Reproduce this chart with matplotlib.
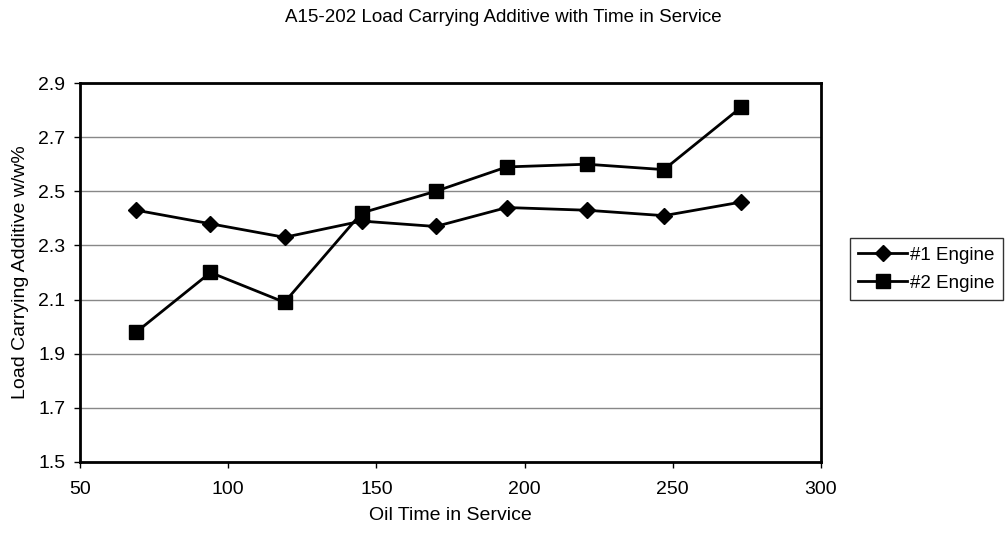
import matplotlib
matplotlib.use('Agg')
import matplotlib.pyplot as plt

plt.rcParams['font.family'] = ['Liberation Sans', 'DejaVu Sans']

# data
hours = [69, 94, 119, 145, 170, 194, 221, 247, 273]
engine1 = [2.43, 2.38, 2.33, 2.39, 2.37, 2.44, 2.43, 2.41, 2.46]
engine2 = [1.98, 2.20, 2.09, 2.42, 2.50, 2.59, 2.60, 2.58, 2.81]
yticks = [1.5, 1.7, 1.9, 2.1, 2.3, 2.5, 2.7, 2.9]

fig = plt.figure(figsize=(10.07, 5.39), dpi=100)
ax = fig.add_axes([80/1007, 1 - 462/539, (821 - 80)/1007, (462 - 83)/539])

ax.plot(hours, engine1, color='black', lw=2, marker='D', ms=8, label='#1 Engine')
ax.plot(hours, engine2, color='black', lw=2, marker='s', ms=10, label='#2 Engine')

ax.set_xlim(50, 300)
ax.set_ylim(1.5, 2.9)
ax.set_xticks([50, 100, 150, 200, 250, 300])
ax.set_yticks(yticks)
ax.set_yticklabels(['%.1f' % v for v in yticks])
ax.grid(axis='y', color='#888888', lw=1)
ax.set_axisbelow(True)
for s in ax.spines.values():
    s.set_linewidth(2)
ax.tick_params(labelsize=14, width=1, length=4.5)
ax.tick_params(axis='x', pad=9)
ax.tick_params(axis='y', pad=6)

ax.set_xlabel('Oil Time in Service', fontsize=14, labelpad=7)
ax.set_ylabel('Load Carrying Additive w/w%', fontsize=14, labelpad=7)
fig.text(0.5, 1 - 18/539, 'A15-202 Load Carrying Additive with Time in Service',
         ha='center', va='center', fontsize=13.5)

# legend hugs the right edge like in the original
leg = fig.legend(loc='upper left', bbox_to_anchor=(850/1007, 1 - 238/539),
                 fontsize=13.5, frameon=True, fancybox=False, edgecolor='black',
                 borderpad=0.45, handlelength=2.6, handletextpad=0.15, labelspacing=0.6,
                 borderaxespad=0)
leg.get_frame().set_linewidth(1)

fig.savefig('out.png', dpi=100)
